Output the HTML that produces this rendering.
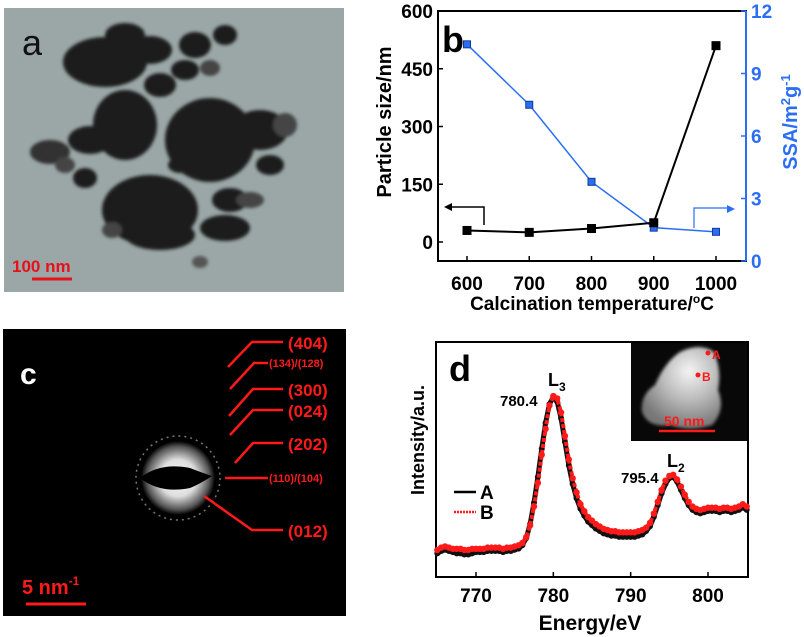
<!DOCTYPE html>
<html><head><meta charset="utf-8"><style>
body{margin:0;background:#fff;}
svg{display:block;font-family:"Liberation Sans",Arial,sans-serif;}
</style></head><body>
<svg id="fig" width="804" height="637" viewBox="0 0 804 637">
<defs>
<filter id="blur2"><feGaussianBlur stdDeviation="1.5"/></filter>
<radialGradient id="glow" cx="0.5" cy="0.5" r="0.5">
<stop offset="0" stop-color="#fff"/><stop offset="0.5" stop-color="#ddd"/><stop offset="0.85" stop-color="#555"/><stop offset="1" stop-color="#000"/>
</radialGradient>
<radialGradient id="haadf" cx="0.6" cy="0.3" r="0.7">
<stop offset="0" stop-color="#f4f4f4"/><stop offset="0.5" stop-color="#bbb"/><stop offset="1" stop-color="#777"/>
</radialGradient>
</defs>

<g>
<rect x="4" y="8" width="340" height="284" fill="#9ba7a7"/>
<g filter="url(#blur2)" fill="#1e1e1e">
<ellipse cx="105" cy="62" rx="42" ry="25"/><ellipse cx="150" cy="50" rx="22" ry="14"/><ellipse cx="125" cy="35" rx="20" ry="12"/>
<ellipse cx="195" cy="45" rx="16" ry="13"/><ellipse cx="185" cy="70" rx="14" ry="10"/><ellipse cx="225" cy="35" rx="12" ry="10"/>
<ellipse cx="210" cy="68" rx="10" ry="8" fill="#444"/><ellipse cx="160" cy="85" rx="16" ry="12"/><ellipse cx="125" cy="125" rx="32" ry="35"/><ellipse cx="90" cy="140" rx="22" ry="14"/>
<ellipse cx="50" cy="152" rx="20" ry="12" fill="#333"/><ellipse cx="65" cy="165" rx="10" ry="8" fill="#444"/><ellipse cx="210" cy="140" rx="45" ry="42"/><ellipse cx="260" cy="130" rx="28" ry="20"/>
<ellipse cx="285" cy="125" rx="12" ry="12" fill="#444"/><ellipse cx="270" cy="165" rx="14" ry="10"/><ellipse cx="150" cy="210" rx="48" ry="35"/><ellipse cx="160" cy="235" rx="35" ry="15"/>
<ellipse cx="230" cy="200" rx="18" ry="12"/><ellipse cx="225" cy="228" rx="25" ry="13"/><ellipse cx="250" cy="200" rx="14" ry="8" fill="#444"/><ellipse cx="85" cy="178" rx="12" ry="10"/>
<ellipse cx="112" cy="230" rx="10" ry="8" fill="#444"/><ellipse cx="200" cy="262" rx="8" ry="6" fill="#555"/><ellipse cx="180" cy="165" rx="12" ry="8"/>
</g>
<text x="22" y="55" font-size="36" fill="#111">a</text>
<text x="12" y="272" font-size="17" font-weight="bold" fill="#e8101a">100 nm</text>
<line x1="32" y1="279" x2="72" y2="279" stroke="#e8101a" stroke-width="3"/>
</g>

<g>
<rect x="3" y="329" width="343" height="287" fill="#000"/>
<circle cx="178" cy="478" r="42" fill="none" stroke="#777" stroke-width="1.5" stroke-dasharray="2 4"/>
<circle cx="178" cy="478" r="37" fill="url(#glow)"/>
<path d="M140 478 Q160 462 190 468 Q200 472 212 476 Q200 484 190 488 Q160 494 140 478Z" fill="#000"/>
<text x="20" y="384" font-size="30" font-weight="bold" fill="#fff">c</text>
<g stroke="#ff1a1a" stroke-width="2.5" fill="none">
<polyline points="228,367 252,342 283,342"/><polyline points="230,389 254,363 268,363"/>
<polyline points="229,416 253,389 283,389"/><polyline points="230,435 253,410 283,410"/>
<polyline points="235,463 253,443 283,443"/><polyline points="225,478 268,478"/>
<polyline points="204,496 252,530 283,530"/>
</g>
<g fill="#ff1a1a" font-weight="bold">
<text x="288" y="349" font-size="17">(404)</text>
<text x="269" y="367" font-size="11">(134)/(128)</text>
<text x="288" y="396" font-size="17">(300)</text>
<text x="288" y="417" font-size="17">(024)</text>
<text x="288" y="450" font-size="17">(202)</text>
<text x="269" y="482" font-size="11">(110)/(104)</text>
<text x="288" y="537" font-size="17">(012)</text>
<text x="22" y="594" font-size="20">5 nm<tspan dy="-9" font-size="12">-1</tspan></text>
</g>
<line x1="26" y1="604" x2="86" y2="604" stroke="#ff1a1a" stroke-width="3"/>
</g>

<g id="panelB"></g>
<g id="panelD"></g>
</svg>
<script>
const tempCategories = [600, 700, 800, 900, 1000];
const particleSize = [30, 25, 35, 50, 510];
const ssaValues = [10.4, 7.5, 3.8, 1.6, 1.4];
const leftTicks = [0, 150, 300, 450, 600];
const rightTicks = [0, 3, 6, 9, 12];
const xTicksB = [600, 700, 800, 900, 1000];

const energies = [765,765.5,766,766.5,767,767.5,768,768.5,769,769.5,770,770.5,771,771.5,772,772.5,773,773.5,774,774.5,775,775.5,776,776.5,777,777.5,778,778.5,779,779.5,780,780.5,781,781.5,782,782.5,783,783.5,784,784.5,785,785.5,786,786.5,787,787.5,788,788.5,789,789.5,790,790.5,791,791.5,792,792.5,793,793.5,794,794.5,795,795.5,796,796.5,797,797.5,798,798.5,799,799.5,800,800.5,801,801.5,802,802.5,803,803.5,804,804.5,805];
const intensityB = [11.5,12.5,13,12.5,12,12,12,11.5,11.5,12,12,12,12,12.5,12.5,12.5,12.5,12,12.5,12.5,13,13.5,14.5,17,22,30,40,52,63,73,77,76,70,60,50,42,36,31,28,25.5,24,22.5,21.5,20.5,20,19.5,19.5,19,19,19,19,19,19.5,20,21,23,27,32,37,41,43,43.5,41.5,38.5,35,32,30,29,28.5,29,29.5,29.5,29.5,29,29.5,29.5,29,29.5,30,31,30];
const intensityA = [10.5,11.5,12,11.5,11,10.5,10.5,10,10,10.5,11,11,11,11.5,11.5,11.5,11.5,11,11.5,11.5,12,12.5,14,17,23,32,43,55,66,74,77,75,68,58,48,40,34,29.5,26.5,24,22.5,21,20,19,18.5,18,18,17.5,17.5,17.5,17.5,17.5,18,18.5,20,22,26,31,36,40,42.5,43,41,37.5,34,31,29,28,27.5,28,28.5,28.5,28.5,28,28.5,28.5,28,28.5,29,30,29];
const xTicksD = [770, 780, 790, 800];

const NS = "http://www.w3.org/2000/svg";
function mk(parent, tag, attrs, text) {
  const el = document.createElementNS(NS, tag);
  for (const k in attrs) el.setAttribute(k, attrs[k]);
  if (text !== undefined) el.textContent = text;
  parent.appendChild(el);
  return el;
}

(function(){
  const g = document.getElementById('panelB');
  const L = 438, R = 746, T = 11, B = 261;
  const xB = v => 467 + (v - 600) * (716 - 467) / 400;
  const yL = v => 242 - v * (242 - 11) / 600;
  const yR = v => 261 - v * (261 - 11) / 12;
  let e;
  e = mk(g, 'rect', {x:L, y:T, width:R-L, height:B-T, fill:'none', stroke:'#000', 'stroke-width':2});
  
  
  mk(g, 'line', {x1:R, y1:T, x2:R, y2:B, stroke:'#2a6ef5', 'stroke-width':2});
  leftTicks.forEach(t => {
    mk(g, 'line', {x1:L, y1:yL(t), x2:L+5, y2:yL(t), stroke:'#000', 'stroke-width':1.5});
    e = mk(g, 'text', {x:L-5, y:yL(t)+7, 'text-anchor':'end', 'font-size':19, 'font-weight':'bold'}, t);
    
    
  });
  rightTicks.forEach(t => {
    mk(g, 'line', {x1:R, y1:yR(t), x2:R-5, y2:yR(t), stroke:'#2a6ef5', 'stroke-width':1.5});
    e = mk(g, 'text', {x:R+5, y:yR(t)+7, 'font-size':19, 'font-weight':'bold', fill:'#2a6ef5'}, t);
    
    
  });
  xTicksB.forEach(t => {
    mk(g, 'line', {x1:xB(t), y1:B, x2:xB(t), y2:B-5, stroke:'#000', 'stroke-width':1.5});
    e = mk(g, 'text', {x:xB(t), y:290, 'text-anchor':'middle', 'font-size':19, 'font-weight':'bold'}, t);
    
    
  });
  e = mk(g, 'polyline', {points: tempCategories.map((c,i)=>xB(c)+','+yR(ssaValues[i])).join(' '), fill:'none', stroke:'#2a6ef5', 'stroke-width':1.5});
  
  
  e = mk(g, 'polyline', {points: tempCategories.map((c,i)=>xB(c)+','+yL(particleSize[i])).join(' '), fill:'none', stroke:'#000', 'stroke-width':2});
  
  
  tempCategories.forEach((c,i) => {
    e = mk(g, 'rect', {x:xB(c)-3.5, y:yR(ssaValues[i])-3.5, width:7, height:7, fill:'#2a6ef5', stroke:'#123a9a', 'stroke-width':1});
    
    
    e = mk(g, 'rect', {x:xB(c)-4.5, y:yL(particleSize[i])-4.5, width:9, height:9, fill:'#000'});
    
    
  });
  mk(g, 'polyline', {points:'484,225 484,207 450,207', fill:'none', stroke:'#000', 'stroke-width':1.5});
  mk(g, 'path', {d:'M444 207 L452 203 L452 211Z', fill:'#000'});
  mk(g, 'polyline', {points:'694,228 694,208 728,208', fill:'none', stroke:'#2a6ef5', 'stroke-width':1.2});
  mk(g, 'path', {d:'M735 209 L727 205 L727 213Z', fill:'#2a6ef5'});
  e = mk(g, 'text', {x:442, y:52, 'font-size':36, 'font-weight':'bold'}, 'b');
  
  
  e = mk(g, 'text', {x:0, y:0, 'font-size':20, 'font-weight':'bold', 'text-anchor':'middle', transform:'translate(391,122) rotate(-90)'}, 'Particle size/nm');
  
  
  e = mk(g, 'text', {x:0, y:0, 'font-size':20, 'font-weight':'bold', fill:'#2a6ef5', 'text-anchor':'middle', transform:'translate(797,122) rotate(-90)'});
  e.innerHTML = 'SSA/m<tspan dy="-7" font-size="13">2</tspan><tspan dy="7">g</tspan><tspan dy="-7" font-size="13">-1</tspan>';
  
  
  e = mk(g, 'text', {x:592, y:310, 'font-size':19, 'font-weight':'bold', 'text-anchor':'middle'});
  e.innerHTML = 'Calcination temperature/<tspan dy="-7" font-size="12">o</tspan><tspan dy="7">C</tspan>';
  
  
})();

(function(){
  const g = document.getElementById('panelD');
  const L = 436, R = 748, T = 342, B = 577;
  const xD = v => 476 + (v - 770) * (708 - 476) / 30;
  const yD = v => B - v * (B - T) / 100;
  let e;
  e = mk(g, 'rect', {x:631, y:T, width:R-631, height:99, fill:'#080808'});
  
  
  mk(g, 'path', {d:'M680 352 Q700 342 714 352 Q722 370 718 390 Q726 410 712 425 Q690 432 670 425 Q648 428 642 412 Q640 395 655 385 Q665 362 680 352Z', fill:'url(#haadf)', filter:'url(#blur2)'});
  mk(g, 'circle', {cx:708, cy:353, r:2.5, fill:'#ff1a1a'});
  mk(g, 'circle', {cx:698, cy:375, r:2.5, fill:'#ff1a1a'});
  mk(g, 'text', {x:712, y:359, 'font-size':12, 'font-weight':'bold', fill:'#ff1a1a'}, 'A');
  mk(g, 'text', {x:702, y:381, 'font-size':12, 'font-weight':'bold', fill:'#ff1a1a'}, 'B');
  e = mk(g, 'text', {x:664, y:426, 'font-size':14, 'font-weight':'bold', fill:'#ff1a1a'}, '50 nm');
  
  
  mk(g, 'line', {x1:659, y1:431, x2:715, y2:431, stroke:'#ff1a1a', 'stroke-width':2.5});
  e = mk(g, 'rect', {x:L, y:T, width:R-L, height:B-T, fill:'none', stroke:'#000', 'stroke-width':2});
  
  
  xTicksD.forEach(t => {
    mk(g, 'line', {x1:xD(t), y1:B, x2:xD(t), y2:B-5, stroke:'#000', 'stroke-width':1.5});
    e = mk(g, 'text', {x:xD(t), y:602, 'text-anchor':'middle', 'font-size':19, 'font-weight':'bold'}, t);
    
    
  });
  e = mk(g, 'polyline', {points: energies.map((en,i)=>xD(en)+','+(yD(intensityA[i])+1)).join(' '), fill:'none', stroke:'#111', 'stroke-width':5, 'stroke-linejoin':'round'});
  
  
  energies.forEach((en,i) => {
    e = mk(g, 'circle', {cx:xD(en), cy:yD(intensityA[i])+1, r:3, fill:'#111'});
    
    
  });
  e = mk(g, 'polyline', {points: energies.map((en,i)=>xD(en)+','+yD(intensityB[i])).join(' '), fill:'none', stroke:'#ff1a1a', 'stroke-width':4, 'stroke-dasharray':'4 2', 'stroke-linejoin':'round'});
  
  
  energies.forEach((en,i) => {
    e = mk(g, 'circle', {cx:xD(en), cy:yD(intensityB[i]), r:3.2, fill:'#ff1a1a'});
    
    
  });
  mk(g, 'line', {x1:454, y1:492, x2:476, y2:492, stroke:'#000', 'stroke-width':2.5});
  e = mk(g, 'text', {x:480, y:499, 'font-size':19, 'font-weight':'bold'}, 'A');
  
  
  mk(g, 'line', {x1:454, y1:512, x2:476, y2:512, stroke:'#ff1a1a', 'stroke-width':2.5, 'stroke-dasharray':'2 1'});
  e = mk(g, 'text', {x:480, y:519, 'font-size':19, 'font-weight':'bold'}, 'B');
  
  
  e = mk(g, 'text', {x:449, y:381, 'font-size':36, 'font-weight':'bold'}, 'd');
  
  
  e = mk(g, 'text', {x:548, y:386, 'font-size':18, 'font-weight':'bold'});
  e.innerHTML = 'L<tspan dy="5" font-size="12">3</tspan>';
  
  
  e = mk(g, 'text', {x:500, y:406, 'font-size':15, 'font-weight':'bold'}, '780.4');
  
  
  e = mk(g, 'text', {x:667, y:467, 'font-size':18, 'font-weight':'bold'});
  e.innerHTML = 'L<tspan dy="5" font-size="12">2</tspan>';
  
  
  e = mk(g, 'text', {x:621, y:483, 'font-size':15, 'font-weight':'bold'}, '795.4');
  
  
  e = mk(g, 'text', {x:0, y:0, 'font-size':18, 'font-weight':'bold', 'text-anchor':'middle', transform:'translate(424,440) rotate(-90)'}, 'Intensity/a.u.');
  
  
  e = mk(g, 'text', {x:590, y:630, 'font-size':21, 'font-weight':'bold', 'text-anchor':'middle'}, 'Energy/eV');
  
  
})();
</script>
</body></html>
